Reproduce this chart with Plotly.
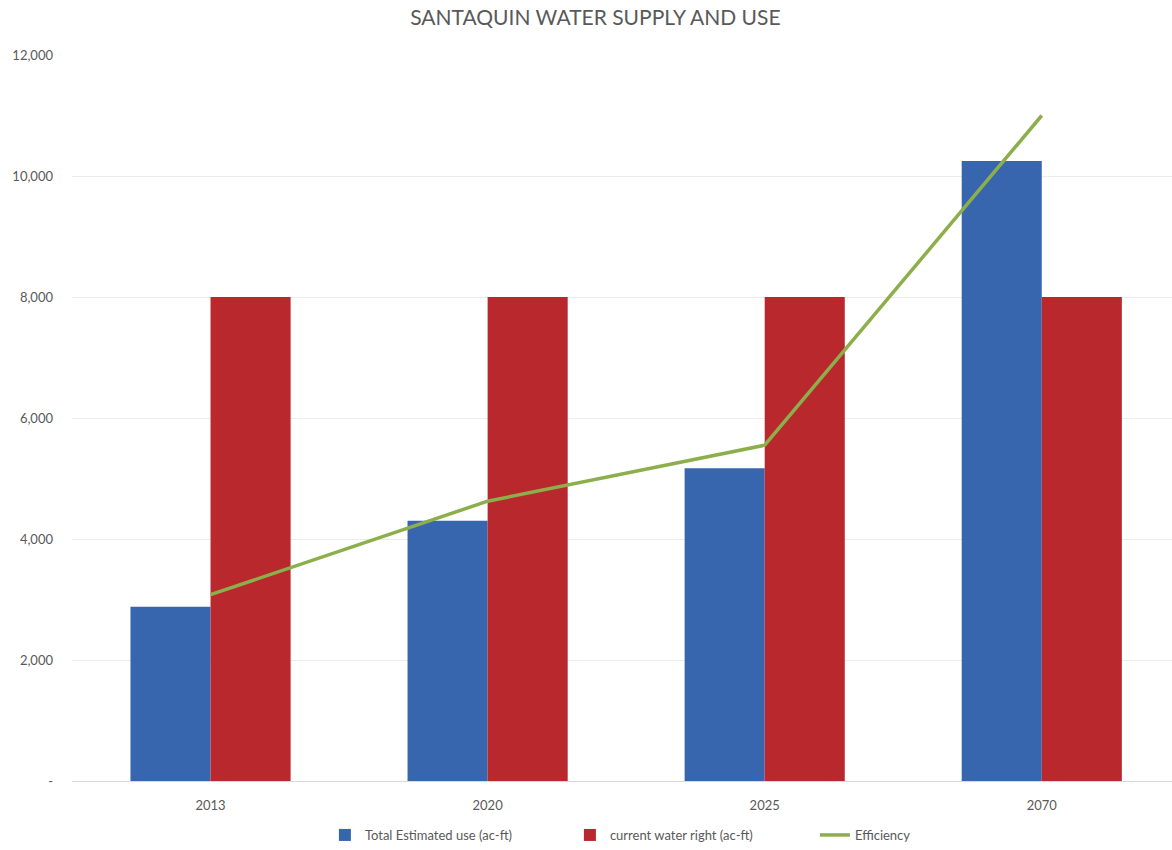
import plotly.graph_objects as go

years = ["2013", "2020", "2025", "2070"]
total_use = [2880, 4300, 5170, 10250]
water_right = [8000, 8000, 8000, 8000]
efficiency = [3080, 4625, 5550, 11000]

y_tickvals = [0, 2000, 4000, 6000, 8000, 10000, 12000]
y_ticktext = ["-", "2,000", "4,000", "6,000", "8,000", "10,000", "12,000"]

FONT = "Lato, 'Open Sans', sans-serif"
GREY = "#595959"

fig = go.Figure()
fig.add_trace(go.Bar(x=years, y=total_use, name="Total Estimated use (ac-ft)",
                     marker=dict(color="#3866AE", line=dict(width=0))))
fig.add_trace(go.Bar(x=years, y=water_right, name="current water right (ac-ft)",
                     marker=dict(color="#B8282D", line=dict(width=0))))
fig.add_trace(go.Scatter(x=years, y=efficiency, name="Efficiency", mode="lines",
                         line=dict(color="#8DAF4B", width=3.5)))

fig.update_layout(
    width=1172, height=850,
    margin=dict(l=72, r=0, t=55, b=64),
    paper_bgcolor="white", plot_bgcolor="white",
    barmode="group", bargap=0.422, bargroupgap=0,
    font=dict(family=FONT, size=13, color=GREY),
    title=dict(text="SANTAQUIN WATER SUPPLY AND USE", x=0.508, xanchor="center",
               y=0.979, yanchor="middle", font=dict(size=21, color=GREY, family=FONT)),
    xaxis=dict(type="category", range=[-0.5, 3.47], showgrid=False,
               showline=True, linecolor="#d9d9d9", linewidth=1, ticks="",
               tickfont=dict(size=13, color=GREY), ticklabelstandoff=12),
    yaxis=dict(range=[0, 12000], tickvals=y_tickvals, ticktext=y_ticktext,
               showgrid=True, gridcolor="#ececec", gridwidth=1, zeroline=False,
               showline=False, ticks="", tickfont=dict(size=13, color=GREY),
               ticklabelstandoff=18),
    legend=dict(orientation="h", x=0.564, xanchor="center", y=-0.075, yanchor="middle",
                font=dict(size=13, color=GREY), traceorder="normal", itemwidth=30,
                entrywidth=200, entrywidthmode="pixels"),
    showlegend=True,
)

fig.write_html("out.html")
